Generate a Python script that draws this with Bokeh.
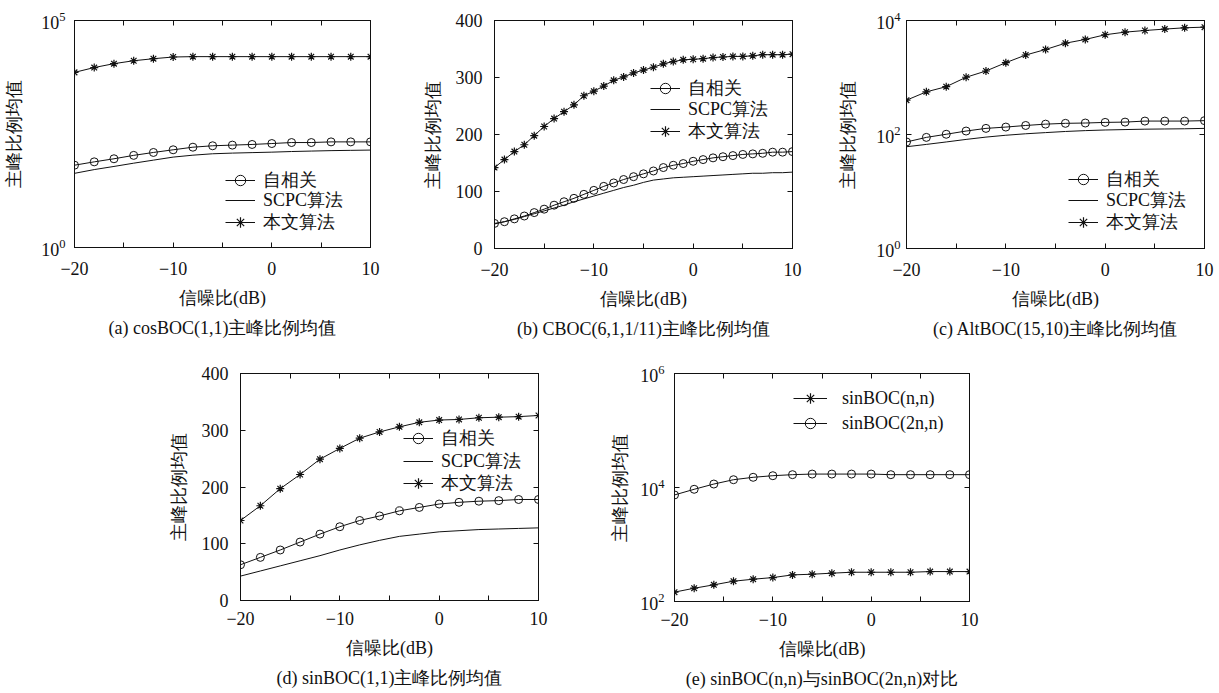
from bokeh.plotting import figure
from bokeh.models import (Range1d, FixedTicker, LinearAxis, LogAxis, Legend, LegendItem,
                          Title, Spacer, CustomJSTickFormatter)
from bokeh.layouts import row, column
from bokeh.embed import file_html
from bokeh.resources import INLINE

# ---------------- data ----------------
x2 = [-20, -18, -16, -14, -12, -10, -8, -6, -4, -2, 0, 2, 4, 6, 8, 10]
x1 = list(range(-20, 11))

a_auto = [65, 77, 90, 107, 124, 142, 162, 174, 180, 186, 195, 205, 205, 212, 212, 212]
a_scpc = [43, 52, 61, 72, 84, 98, 108, 116, 120, 123, 126, 130, 133, 136, 138, 140]
a_prop = [7200, 9200, 11200, 13000, 14400, 15700, 16000, 16000, 16000, 16000, 16000,
          16000, 16000, 16000, 16000, 16000]

b_prop = [142, 156, 170, 182, 198, 214, 228, 240, 252, 268, 276, 285, 295, 301, 308, 313,
          318, 324, 328, 331, 332, 333, 335, 336, 337, 337, 338, 340, 340, 340, 341]
b_auto = [44, 47, 52, 57, 63, 69, 76, 82, 88, 95, 102, 109, 115, 121, 126, 131,
          136, 142, 146, 149, 153, 156, 159, 161, 163, 165, 166, 167, 169, 169, 170]
b_scpc = [43, 47, 51, 56, 61, 66, 71, 76, 82, 87, 92, 97, 102, 107, 111, 116,
          120, 122, 124, 125, 126, 127, 128, 129, 130, 131, 132, 132, 133, 133, 134]

c_prop = [400, 560, 690, 1010, 1300, 1820, 2480, 3100, 4000, 4650, 5620, 6250, 6680,
          7070, 7450, 7650]
c_auto = [74, 89, 101, 115, 128, 135, 144, 152, 157, 159, 163, 165, 172, 172, 172, 175]
c_scpc = [61, 67, 74, 82, 90, 97, 103, 108, 113, 117, 120, 122, 124, 125, 126, 128]

d_prop = [141, 167, 197, 222, 249, 268, 286, 297, 306, 314, 318, 319, 322, 323, 324, 326]
d_auto = [63, 76, 89, 103, 117, 130, 141, 149, 158, 164, 170, 173, 175, 176, 178, 178]
d_scpc = [43, 52, 61, 70, 79, 89, 98, 106, 113, 117, 121, 123, 125, 126, 127, 128]

e_nn = [146, 171, 196, 227, 246, 263, 293, 301, 314, 326, 326, 326, 326, 335, 335, 335]
e_2nn = [7400, 9300, 11500, 13700, 15100, 16100, 16800, 17200, 17200, 17200, 17200,
         16800, 16800, 16800, 16800, 16800]

x_major = [-20, -10, 0, 10]
x_minor = [-15, -5, 5]

lbl_auto = "自相关"
lbl_scpc = "SCPC算法"
lbl_prop = "本文算法"
lbl_nn = "sinBOC(n,n)"
lbl_2nn = "sinBOC(2n,n)"
xlabel = "信噪比(dB)"
ylabel = "主峰比例均值"
captions = ["(a) cosBOC(1,1)主峰比例均值", "(b) CBOC(6,1,1/11)主峰比例均值",
            "(c) AltBOC(15,10)主峰比例均值", "(d) sinBOC(1,1)主峰比例均值",
            "(e) sinBOC(n,n)与sinBOC(2n,n)对比"]

FONT = "Liberation Serif"
FS = "18px"
INK = "#111111"
ROW_H = 26


def style_axis(ax, labels=True):
    ax.major_tick_in = 5
    ax.major_tick_out = 0
    ax.minor_tick_in = 5
    ax.minor_tick_out = 0
    ax.axis_line_color = INK
    ax.major_tick_line_color = INK
    ax.minor_tick_line_color = INK
    ax.major_label_text_font = FONT
    ax.major_label_text_color = INK
    ax.major_label_text_font_size = FS
    ax.axis_label_text_font = FONT
    ax.axis_label_text_font_style = "normal"
    ax.axis_label_text_font_size = FS
    ax.axis_label_text_color = INK
    if not labels:
        ax.formatter = CustomJSTickFormatter(code="return '';")
        ax.major_label_standoff = 0


def make_fig(fw, fh, bl, br, bt, bb, log_y, yr, yticks, caption, ystand, ylab_stand,
             xstand=14):
    p = figure(frame_width=fw, frame_height=fh,
               min_border_left=bl, min_border_right=br,
               min_border_top=bt, min_border_bottom=bb,
               x_range=Range1d(-20, 10), y_range=Range1d(*yr),
               y_axis_type="log" if log_y else "linear",
               output_backend="svg", toolbar_location=None)
    p.grid.visible = False
    p.outline_line_color = INK
    p.background_fill_color = "white"
    p.border_fill_color = "white"
    p.xaxis.ticker = FixedTicker(ticks=x_major, minor_ticks=x_minor)
    p.yaxis.ticker = FixedTicker(ticks=yticks)
    p.xaxis.axis_label = xlabel
    p.yaxis.axis_label = ylabel
    for ax in p.xaxis + p.yaxis:
        style_axis(ax)
    p.xaxis.major_label_standoff = xstand
    p.xaxis.axis_label_standoff = 10
    p.yaxis.major_label_standoff = ystand
    p.yaxis.axis_label_standoff = ylab_stand
    top = LinearAxis(ticker=FixedTicker(ticks=x_major, minor_ticks=x_minor))
    style_axis(top, labels=False)
    p.add_layout(top, "above")
    right = (LogAxis if log_y else LinearAxis)(ticker=FixedTicker(ticks=yticks))
    style_axis(right, labels=False)
    p.add_layout(right, "right")
    t = Title(text=caption, align="center", text_font=FONT, text_font_size=FS,
              text_font_style="normal", text_color=INK, standoff=11)
    p.add_layout(t, "below")
    return p


def add_legend_row(p, label, renderers, x, yc, glyph_w=30, standoff=8):
    leg = Legend(items=[LegendItem(label=label, renderers=renderers)],
                 location=(x, yc - ROW_H / 2))
    leg.background_fill_alpha = 0
    leg.border_line_alpha = 0
    leg.padding = 0
    leg.margin = 0
    leg.spacing = 0
    leg.glyph_width = glyph_w
    leg.glyph_height = ROW_H
    leg.label_height = ROW_H
    leg.label_standoff = standoff
    leg.label_text_font = FONT
    leg.label_text_font_size = FS
    leg.label_text_color = INK
    p.add_layout(leg)


def three_series(p, x, auto, scpc, prop, lx, rows):
    l1 = p.line(x, auto, line_color=INK, line_width=1)
    s1 = p.scatter(x, auto, marker="circle", size=8, line_color=INK, fill_alpha=0,
                   line_width=1)
    l2 = p.line(x, scpc, line_color=INK, line_width=1)
    l3 = p.line(x, prop, line_color=INK, line_width=1)
    s3 = p.scatter(x, prop, marker="asterisk", size=8, line_color=INK, line_width=1.2)
    add_legend_row(p, lbl_auto, [l1, s1], lx, rows[0])
    add_legend_row(p, lbl_scpc, [l2], lx, rows[1])
    add_legend_row(p, lbl_prop, [l3, s3], lx, rows[2])


# row 1 (page has no margin: Bokeh's template zeroes it)
pa = make_fig(296, 227, 74, 14, 20, 98, True, (1, 1e5), [1, 1e5], captions[0], 9, 14)
three_series(pa, x2, a_auto, a_scpc, a_prop, 151, (67, 47, 25))

pb = make_fig(298, 228, 110, 14, 20, 97, False, (0, 400), [0, 100, 200, 300, 400],
              captions[1], 12, 10)
three_series(pb, x1, b_auto, b_scpc, b_prop, 156, (160, 139, 117))

pc = make_fig(298, 228, 100, 15, 20, 97, True, (1, 1e4), [1, 100, 1e4], captions[2], 6, 15)
three_series(pc, x2, c_auto, c_scpc, c_prop, 162, (69, 48, 26))

# row 2
pd = make_fig(298, 227, 92, 14, 28, 93, False, (0, 400), [0, 100, 200, 300, 400],
              captions[3], 12, 10, xstand=11)
three_series(pd, x2, d_auto, d_scpc, d_prop, 163, (162, 139, 117))

pe = make_fig(295, 228, 122, 20, 27, 93, True, (100, 1e6), [100, 1e4, 1e6], captions[4],
              10, 7, xstand=11)
le1 = pe.line(x2, e_nn, line_color=INK, line_width=1)
se1 = pe.scatter(x2, e_nn, marker="asterisk", size=8, line_color=INK, line_width=1.2)
le2 = pe.line(x2, e_2nn, line_color=INK, line_width=1)
se2 = pe.scatter(x2, e_2nn, marker="circle", size=8, line_color=INK, fill_alpha=0)
add_legend_row(pe, lbl_nn, [le1, se1], 119, 203, glyph_w=34, standoff=15)
add_legend_row(pe, lbl_2nn, [le2, se2], 119, 178, glyph_w=34, standoff=15)

layout = column(row(pa, pb, pc), row(Spacer(width=148, height=10), pd, pe))

open("out.html", "w").write(file_html(layout, INLINE))
